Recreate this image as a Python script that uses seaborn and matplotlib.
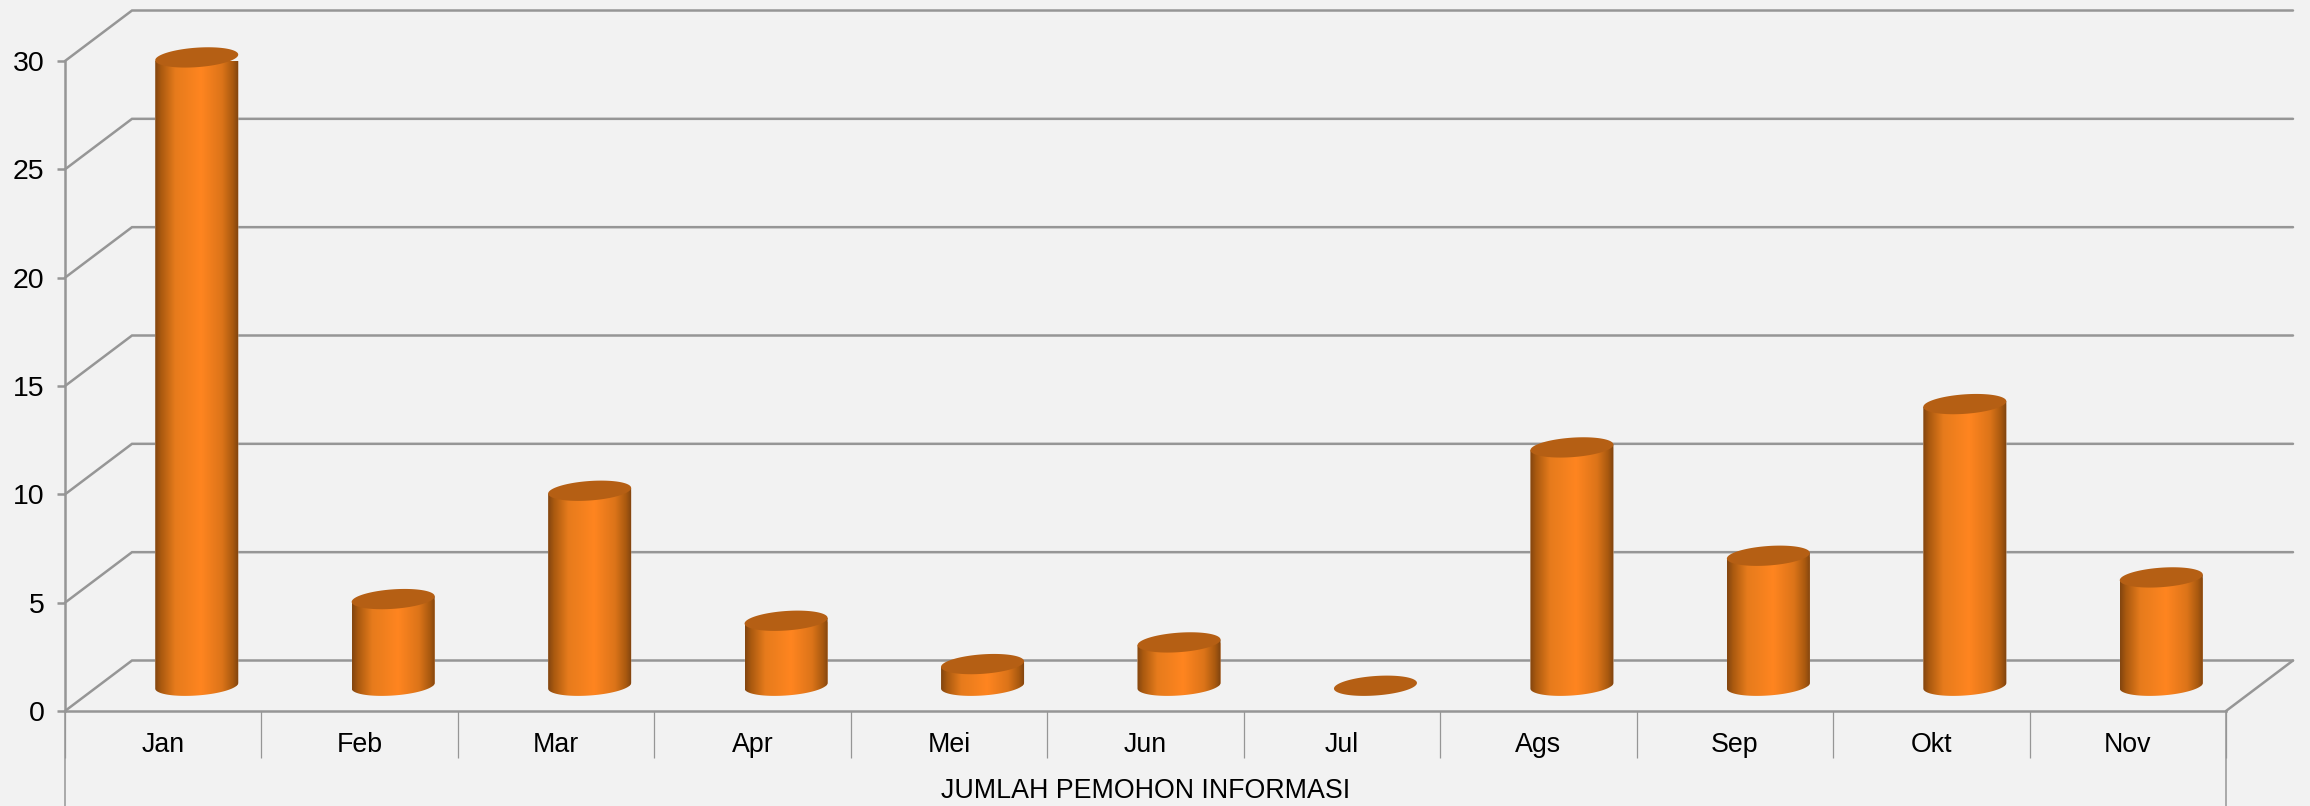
import numpy as np
import matplotlib
matplotlib.use('Agg')
import matplotlib.pyplot as plt
from matplotlib.colors import LinearSegmentedColormap
from matplotlib.patches import Polygon
import seaborn as sns

# Data
months = ['Jan', 'Feb', 'Mar', 'Apr', 'Mei', 'Jun', 'Jul', 'Ags', 'Sep', 'Okt', 'Nov']
pemohon = [29, 4, 9, 3, 1, 2, 0, 11, 6, 13, 5]
y_ticks = [0, 5, 10, 15, 20, 25, 30]
x_title = 'JUMLAH PEMOHON INFORMASI'

BG = '#f2f2f2'
LINE = '#969696'
CAP = '#b55f14'
LW = 1.8
FS = 19.3

sns.set_theme(style='white', rc={'axes.facecolor': BG, 'figure.facecolor': BG})
plt.rcParams['font.family'] = ['Liberation Sans', 'DejaVu Sans']

W, H = 2310, 806
fig = plt.figure(figsize=(W / 100, H / 100), dpi=100)
# axes box is the front plane of the fake 3D chart
ax = fig.add_axes([65 / W, 1 - 711 / H, (2226 - 65) / W, (711 - 61) / H])
ax.patch.set_alpha(0)

df = {'bulan': months, 'nilai': pemohon}
sns.barplot(data=df, x='bulan', y='nilai', color='#ff8520', width=0.4225, ax=ax, zorder=3)

ax.set_xlim(-0.5, 10.5)
ax.set_ylim(0, 30)
px_x = 196.45
px_y = 650 / 30

# depth of the floor, in data units
depth_x = 67 / px_x
depth_y = 50.5 / px_y

# back wall and side wall lines
for v in y_ticks:
    ax.plot([-0.5, -0.5 + depth_x, 10.5 + depth_x],
            [v, v + depth_y, v + depth_y],
            color=LINE, lw=LW, clip_on=False, zorder=1, solid_joinstyle='miter')
ax.plot([10.5, 10.5 + depth_x], [0, depth_y], color=LINE, lw=LW, clip_on=False, zorder=1)

# lines running down around the category labels
low = -95 / px_y
ax.plot([-0.5, -0.5], [0, low], color=LINE, lw=1.1, clip_on=False, zorder=1)
ax.plot([10.5, 10.5], [0, low], color=LINE, lw=1.1, clip_on=False, zorder=1)

# cylinders, shaped from the bars seaborn made
shade = LinearSegmentedColormap.from_list('cyl', [
    (0.0, '#824510'), (0.07, '#a9590f'), (0.24, '#e67b1c'), (0.55, '#ff8520'),
    (0.8, '#dc7419'), (0.93, '#a9590f'), (1.0, '#7d4210')])
grad = np.linspace(0, 1, 256).reshape(1, -1)
t_all = np.radians(np.linspace(0, 360, 121))
t_low = np.radians(np.linspace(180, 360, 61))
tilt = 0.13
rb = 0.45

for bar in ax.patches[:len(months)]:
    x0 = bar.get_x() + depth_x / 2
    w = bar.get_width()
    h = bar.get_height()
    y0 = depth_y / 2
    bar.set_x(x0)
    bar.set_y(y0)
    cx = x0 + w / 2
    low_x = cx + w / 2 * np.cos(t_low)
    low_y = y0 + tilt * np.cos(t_low) + rb * np.sin(t_low)
    if h > 0:
        body = np.column_stack([
            np.r_[low_x, x0 + w, x0],
            np.r_[low_y, y0 + h + tilt, y0 + h - tilt]])
        shape = Polygon(body, closed=True, transform=ax.transData, fc='none', ec='none')
        ax.add_patch(shape)
        bar.set_clip_path(shape)
        im = ax.imshow(grad, cmap=shade, aspect='auto', zorder=3.5,
                       extent=[x0, x0 + w, y0 - 1, y0 + h + 1], clip_on=True)
        im.set_clip_path(shape)
    else:
        bar.set_visible(False)
    cap = np.column_stack([cx + w / 2 * np.cos(t_all),
                           y0 + h + tilt * np.cos(t_all) + rb * np.sin(t_all)])
    ax.add_patch(Polygon(cap, closed=True, fc=CAP, ec='none', zorder=4, clip_on=False))

ax.set_xlim(-0.5, 10.5)
ax.set_ylim(0, 30)

# axes, ticks, labels
sns.despine(ax=ax, top=True, right=True)
for s in ['left', 'bottom']:
    ax.spines[s].set_color(LINE)
    ax.spines[s].set_linewidth(LW)
    ax.spines[s].set_zorder(2)

ax.set_yticks(y_ticks)
ax.set_xticks(range(len(months)))
ax.set_xticklabels(months)
ax.set_xticks(np.arange(-0.5, 11, 1), minor=True)
ax.tick_params(axis='y', which='major', left=True, length=5.8, width=LW, color=LINE,
               labelsize=20.5, labelcolor='black', pad=9)
ax.tick_params(axis='x', which='major', bottom=False, labelsize=FS, labelcolor='black', pad=9)
ax.tick_params(axis='x', which='minor', bottom=True, length=34, width=0.9, color=LINE)
ax.set_xlabel(x_title, fontsize=FS, color='black', labelpad=11)
ax.set_ylabel('')

fig.savefig('out.png', dpi=100, facecolor=BG)
